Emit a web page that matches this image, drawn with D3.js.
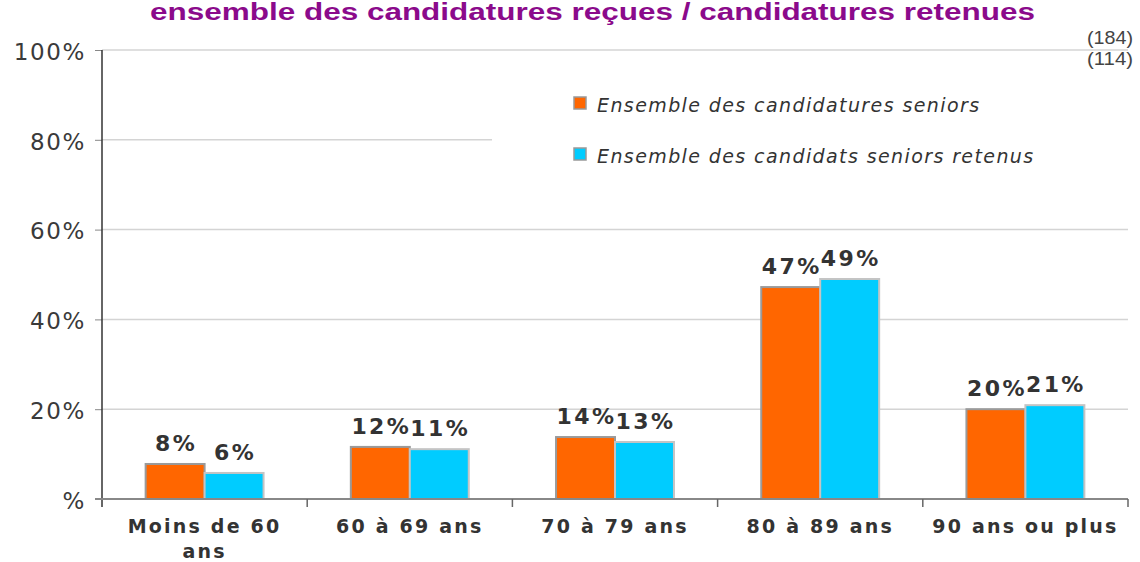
<!DOCTYPE html>
<html>
<head>
<meta charset="utf-8" />
<title>Candidatures seniors par âge</title>
<style>
body { margin: 0; background: #fff; }
#graph { width: 1140px; height: 562px; }
text { fill: #333; }
</style>
</head>
<body>
<div id="graph"></div>
<script src="https://cdnjs.cloudflare.com/ajax/libs/d3/7.8.5/d3.min.js"></script>
<script>
// values (percent)
var categories = ["Moins de 60 ans", "60 à 69 ans", "70 à 79 ans", "80 à 89 ans", "90 ans ou plus"]
var seriesNames = ["Ensemble des candidatures seniors", "Ensemble des candidats seniors retenus"]
var candidatures = [7.8, 11.6, 13.8, 47.2, 20.0]
var retenus = [5.8, 11.1, 12.7, 49.0, 20.9]
var yTicks = [0, 20, 40, 60, 80, 100]
var counts = ["(184)", "(114)"]

!(function(){
    "use strict"

    var width = 1140, height = 562
    var margin = {top: 50, left: 102, bottom: 63, right: 12}
    var colors = ["#ff6600", "#00ccff"]
    var borders = ["#9a9a9a", "#c4c4c4"]

    var svg = d3.select("#graph").append("svg")
        .attr("width", width).attr("height", height)

    var x = d3.scaleBand()
        .domain(categories)
        .range([margin.left, width - margin.right])

    var x1 = d3.scaleBand()
        .domain(seriesNames)
        .range([0, x.bandwidth()])
        .paddingOuter(0.74)

    var y = d3.scaleLinear()
        .domain([0, 100])
        .range([height - margin.bottom, margin.top])

    var values = [candidatures, retenus]
    var rows = []
    categories.forEach(function(c, i) {
        seriesNames.forEach(function(s, j) {
            rows.push({cat: c, series: s, j: j, value: values[j][i]})
        })
    })

    // title (sits right at the top edge)
    svg.append("text")
        .attr("x", 150).attr("y", 20)
        .attr("textLength", 885)
        .attr("lengthAdjust", "spacingAndGlyphs")
        .style("font-family", "'Liberation Sans', Arial, sans-serif")
        .style("font-weight", "bold")
        .style("font-size", "23px")
        .style("fill", "#8b0a8b")
        .text("ensemble des candidatures reçues / candidatures retenues")

    svg.selectAll(".count")
        .data(counts)
        .enter().append("text")
        .attr("class", "count")
        .attr("x", 1133)
        .attr("y", function(d, i) { return 44 + i * 21 })
        .attr("text-anchor", "end")
        .attr("textLength", 46)
        .attr("lengthAdjust", "spacingAndGlyphs")
        .style("font-family", "'Liberation Sans', sans-serif")
        .style("font-size", "19px")
        .style("fill", "#444")
        .text(function(d) { return d })

    // gridlines
    svg.append("g")
        .selectAll("line")
        .data(yTicks.filter(function(d) { return d > 0 }))
        .enter().append("line")
        .attr("x1", margin.left).attr("x2", width - margin.right)
        .attr("y1", function(d) { return y(d) }).attr("y2", function(d) { return y(d) })
        .attr("stroke", "#d4d4d4")
        .attr("stroke-width", 1.5)

    // y axis
    var yAxis = svg.append("g")
        .attr("transform", "translate(" + margin.left + ",0)")
        .call(d3.axisLeft(y).tickValues(yTicks).tickSize(7).tickPadding(9)
            .tickFormat(function(d) { return d === 0 ? "%" : d + "%" }))
    yAxis.select(".domain").remove()
    yAxis.selectAll(".tick line").attr("stroke", "#888")
    yAxis.selectAll("text")
        .style("font-family", "'DejaVu Sans', Verdana, sans-serif")
        .style("font-size", "23px")
        .style("letter-spacing", "1.6px")
        .style("fill", "#3a3a3a")
        .attr("dy", "0.4em")
    svg.append("line")
        .attr("x1", margin.left).attr("x2", margin.left)
        .attr("y1", y(100)).attr("y2", y(0) + 8)
        .attr("stroke", "#333").attr("stroke-width", 1.5)

    // legend box covers gridline behind it
    var legend = svg.append("g")
    legend.append("rect")
        .attr("x", 492).attr("y", 75).attr("width", 636).attr("height", 115)
        .attr("fill", "#fff")
    var li = legend.selectAll(".li")
        .data(seriesNames)
        .enter().append("g")
        .attr("transform", function(d, i) { return "translate(574," + (97 + i * 51) + ")" })
    li.append("rect")
        .attr("width", 12).attr("height", 12)
        .attr("fill", function(d, i) { return colors[i] })
        .attr("stroke", "#999").attr("stroke-width", 1.5)
    li.append("text")
        .attr("x", 23).attr("y", 15)
        .style("font-family", "'DejaVu Sans', Verdana, sans-serif")
        .style("font-style", "italic")
        .style("font-size", "19px")
        .style("letter-spacing", "1.4px")
        .text(function(d) { return d })

    // bars
    svg.append("g")
        .selectAll("rect")
        .data(rows)
        .enter().append("rect")
        .attr("x", function(d) { return x(d.cat) + x1(d.series) })
        .attr("y", function(d) { return y(d.value) })
        .attr("width", x1.bandwidth())
        .attr("height", function(d) { return y(0) - y(d.value) })
        .attr("fill", function(d) { return colors[d.j] })
        .attr("stroke", function(d) { return borders[d.j] })
        .attr("stroke-width", 2)

    // x axis
    svg.append("line")
        .attr("x1", margin.left - 7).attr("x2", width - margin.right)
        .attr("y1", y(0)).attr("y2", y(0))
        .attr("stroke", "#888").attr("stroke-width", 2)
    svg.append("g")
        .selectAll("line")
        .data(categories.slice(1).concat([null]))
        .enter().append("line")
        .attr("x1", function(d) { return d ? x(d) : width - margin.right })
        .attr("x2", function(d) { return d ? x(d) : width - margin.right })
        .attr("y1", y(0)).attr("y2", y(0) + 8)
        .attr("stroke", "#666").attr("stroke-width", 1.5)

    var xl = svg.append("g")
        .selectAll("text")
        .data(categories)
        .enter().append("text")
        .attr("x", function(d) { return x(d) + x.bandwidth() / 2 })
        .attr("y", 533)
        .attr("text-anchor", "middle")
        .style("font-family", "'DejaVu Sans', Verdana, sans-serif")
        .style("font-weight", "bold")
        .style("font-size", "19px")
        .style("letter-spacing", "2.2px")
    xl.each(function(d) {
        var t = d3.select(this)
        var lines = d === "Moins de 60 ans" ? ["Moins de 60", "ans"] : [d]
        lines.forEach(function(l, k) {
            t.append("tspan")
                .attr("x", x(d) + x.bandwidth() / 2)
                .attr("dy", k === 0 ? 0 : 25)
                .text(l)
        })
    })

    // value labels
    svg.append("g")
        .selectAll("text")
        .data(rows)
        .enter().append("text")
        .attr("x", function(d) { return x(d.cat) + x1(d.series) + x1.bandwidth() / 2 + 1 })
        .attr("y", function(d) { return y(d.value) - 13 })
        .attr("text-anchor", "middle")
        .style("font-family", "'DejaVu Sans', Verdana, sans-serif")
        .style("font-weight", "bold")
        .style("font-size", "22px")
        .style("letter-spacing", "2.4px")
        .text(function(d) { return Math.round(d.value) + "%" })
}());
</script>
</body>
</html>
